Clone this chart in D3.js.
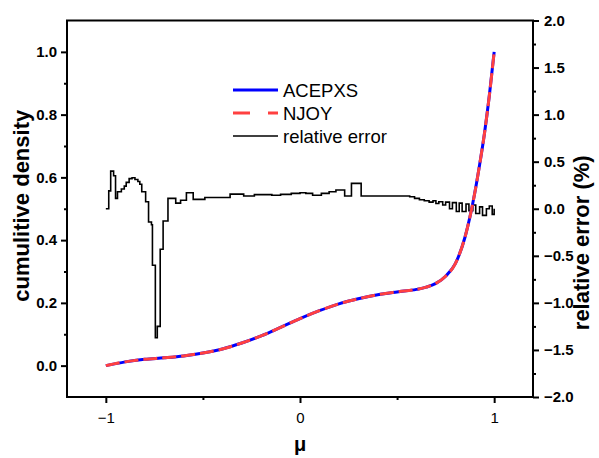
<!DOCTYPE html>
<html>
<head>
<meta charset="utf-8">
<script src="https://cdn.jsdelivr.net/npm/d3@7"></script>
<style>
  body { margin: 0; background: white; }
  text { font-family: "Liberation Sans", Arial, sans-serif; }
</style>
</head>
<body>
<div id="chart"></div>
<script>
// cumulative density curve (ACEPXS and NJOY overlap)
const muCdf = [-1, -0.9, -0.8, -0.7, -0.6, -0.5, -0.4, -0.3, -0.2, -0.1, 0, 0.1, 0.2, 0.3, 0.4, 0.5, 0.6, 0.65, 0.7, 0.75, 0.8, 0.85, 0.9, 0.925, 0.95, 0.975, 1.0];
const cdfAcepxs = [0, 0.012, 0.02, 0.025, 0.031, 0.04, 0.053, 0.072, 0.095, 0.122, 0.15, 0.175, 0.197, 0.213, 0.226, 0.235, 0.243, 0.25, 0.262, 0.285, 0.325, 0.41, 0.55, 0.64, 0.74, 0.86, 1.0];
const cdfNjoy = cdfAcepxs.slice();

// relative error (%) as a step line
const muErr = [-1.0, -0.985, -0.975, -0.96, -0.95, -0.94, -0.92, -0.905, -0.895, -0.88, -0.865, -0.85, -0.835, -0.825, -0.815, -0.795, -0.78, -0.765, -0.76, -0.745, -0.735, -0.72, -0.705, -0.68, -0.64, -0.615, -0.585,
  -0.55, -0.49, -0.36, -0.29, -0.235, -0.145, -0.1, -0.045, 0.0, 0.03, 0.065, 0.11, 0.15, 0.185, 0.23, 0.265, 0.315,
  0.565, 0.59, 0.615, 0.64, 0.665, 0.685, 0.70, 0.715, 0.735, 0.75, 0.77, 0.785, 0.805, 0.82, 0.835, 0.855, 0.87, 0.89, 0.905, 0.925, 0.94, 0.96, 0.975, 0.99, 1.0];
const relErr = [0.0, 0.19, 0.40, 0.35, 0.11, 0.18, 0.21, 0.24, 0.28, 0.32, 0.33, 0.31, 0.29, 0.26, 0.18, 0.075, -0.14, -0.17, -0.6, -1.37, -1.25, -0.43, -0.13, 0.11, 0.06, 0.09, 0.17,
  0.1, 0.12, 0.155, 0.135, 0.15, 0.143, 0.153, 0.163, 0.17, 0.163, 0.143, 0.163, 0.18, 0.2, 0.136, 0.27, 0.135,
  0.128, 0.11, 0.095, 0.085, 0.07, 0.085, 0.055, 0.075, 0.04, 0.07, 0.0, 0.065, -0.03, 0.06, -0.03, 0.05, -0.02, 0.04, -0.05, 0.02, -0.07, 0.0, 0.03, -0.06, 0.0];

const leftTicks = [0.0, 0.2, 0.4, 0.6, 0.8, 1.0];
const rightTicks = [-2.0, -1.5, -1.0, -0.5, 0.0, 0.5, 1.0, 1.5, 2.0];
const xTicks = [-1, 0, 1];
const legendLabels = ["ACEPXS", "NJOY", "relative error"];

const width = 599, height = 458;
const margin = { top: 20.5, right: 66, bottom: 61, left: 67 };
const w = width - margin.left - margin.right;
const h = height - margin.top - margin.bottom;

const svg = d3.select("#chart")
  .append("svg")
  .attr("width", width)
  .attr("height", height);

const g = svg.append("g")
  .attr("transform", `translate(${margin.left},${margin.top})`);

const x = d3.scaleLinear().domain([-1.2, 1.2]).range([0, w]);
const yL = d3.scaleLinear().domain([-0.1, 1.1]).range([h, 0]);
const yR = d3.scaleLinear().domain([-2, 2]).range([h, 0]);

// axes
const xAxis = d3.axisBottom(x).tickValues(xTicks).tickFormat(d3.format("d")).tickSize(6).tickPadding(9);
const xMinor = d3.axisBottom(x).tickValues([-0.5, 0.5]).tickFormat("").tickSize(3);
const lAxis = d3.axisLeft(yL).tickValues(leftTicks).tickFormat(d3.format(".1f")).tickSize(6).tickPadding(4);
const lMinor = d3.axisLeft(yL).tickValues([0.1, 0.3, 0.5, 0.7, 0.9]).tickFormat("").tickSize(3);
const rAxis = d3.axisRight(yR).tickValues(rightTicks).tickFormat(d3.format(".1f")).tickSize(6).tickPadding(5);
const rMinor = d3.axisRight(yR).tickValues([-1.75, -1.25, -0.75, -0.25, 0.25, 0.75, 1.25, 1.75]).tickFormat("").tickSize(3);

function styleAxis(sel, bold, size) {
  sel.select(".domain").remove();
  sel.selectAll("line").attr("stroke", "#000").attr("stroke-width", 2);
  sel.selectAll("text")
    .attr("fill", "#000")
    .style("font-size", size + "px")
    .style("font-weight", bold ? "bold" : "normal");
}

g.append("g").attr("transform", `translate(0,${h})`).call(xAxis).call(s => styleAxis(s, false, 15));
g.append("g").attr("transform", `translate(0,${h})`).call(xMinor).call(s => styleAxis(s, false, 15));
g.append("g").call(lAxis).call(s => styleAxis(s, true, 15));
g.append("g").call(lMinor).call(s => styleAxis(s, true, 15));
g.append("g").attr("transform", `translate(${w},0)`).call(rAxis).call(s => styleAxis(s, true, 15));
g.append("g").attr("transform", `translate(${w},0)`).call(rMinor).call(s => styleAxis(s, true, 15));

// frame
g.append("rect")
  .attr("width", w).attr("height", h)
  .attr("fill", "none").attr("stroke", "#000").attr("stroke-width", 2);

// axis titles
svg.append("text")
  .attr("transform", `translate(29,${margin.top + h / 2 - 3}) rotate(-90)`)
  .attr("text-anchor", "middle")
  .style("font-size", "22px").style("font-weight", "bold")
  .text("cumulitive density");

svg.append("text")
  .attr("transform", `translate(589,${margin.top + h / 2 + 34}) rotate(-90)`)
  .attr("text-anchor", "middle")
  .style("font-size", "22px").style("font-weight", "bold")
  .text("relative error (%)");

svg.append("text")
  .attr("x", margin.left + x(0)).attr("y", 451)
  .attr("text-anchor", "middle")
  .style("font-size", "20px").style("font-weight", "bold")
  .text("μ");

// relative error step line
const errData = muErr.map((m, i) => ({ m, v: relErr[i] }));
const errLine = d3.line().x(d => x(d.m)).y(d => yR(d.v)).curve(d3.curveStepAfter);
g.append("path")
  .datum(errData)
  .attr("fill", "none")
  .attr("stroke", "#000")
  .attr("stroke-width", 1.6)
  .attr("d", errLine);

// cumulative curves
const cdfLine = d3.line().x(d => x(d.m)).y(d => yL(d.v)).curve(d3.curveMonotoneX);
g.append("path")
  .datum(muCdf.map((m, i) => ({ m, v: cdfAcepxs[i] })))
  .attr("fill", "none")
  .attr("stroke", "#0000ff")
  .attr("stroke-width", 3)
  .attr("d", cdfLine);

g.append("path")
  .datum(muCdf.map((m, i) => ({ m, v: cdfNjoy[i] })))
  .attr("fill", "none")
  .attr("stroke", "#ff4040")
  .attr("stroke-width", 3)
  .attr("stroke-dasharray", "14,5")
  .attr("d", cdfLine);

// legend
const legend = svg.append("g").attr("transform", "translate(233,90)");
const legendStyles = [
  { color: "#0000ff", width: 3, dash: null },
  { color: "#ff4040", width: 3, dash: "17,18" },
  { color: "#000", width: 1.6, dash: null }
];
legendLabels.forEach((label, i) => {
  const row = legend.append("g").attr("transform", `translate(0,${i * 23})`);
  row.append("line")
    .attr("x1", 0).attr("x2", 45)
    .attr("stroke", legendStyles[i].color)
    .attr("stroke-width", legendStyles[i].width)
    .attr("stroke-dasharray", legendStyles[i].dash);
  row.append("text")
    .attr("x", 50).attr("y", 6.5)
    .style("font-size", "18.5px")
    .text(label);
});
</script>
</body>
</html>
